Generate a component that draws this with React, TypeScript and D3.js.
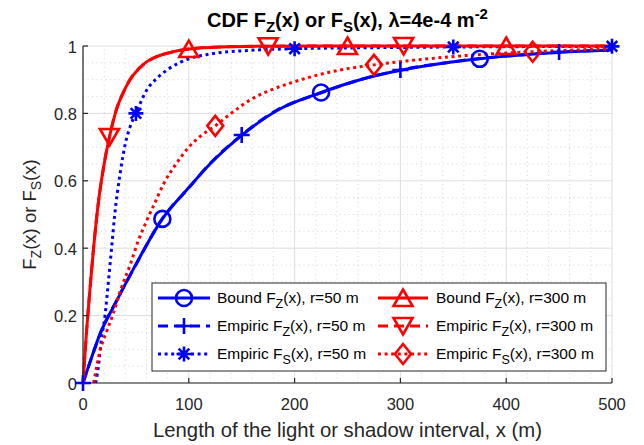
import React from "react";
import * as d3 from "d3";

const X_TICKS = [0, 100, 200, 300, 400, 500];
const Y_TICKS = [0, 0.2, 0.4, 0.6, 0.8, 1];
const Y_TICK_LABELS = ["0", "0.2", "0.4", "0.6", "0.8", "1"];

// Bound F_Z(x), r=50 m
const BOUND_Z50_X = [0, 8, 16, 32, 50, 75, 100, 120, 150, 183, 225, 262, 300, 340, 375, 420, 450, 500];
const BOUND_Z50_Y = [0, 0.075, 0.145, 0.245, 0.352, 0.487, 0.58, 0.65, 0.735, 0.808, 0.862, 0.9, 0.928, 0.949, 0.962, 0.975, 0.981, 0.988];
const BOUND_Z50_MX = [75, 225, 375];
const BOUND_Z50_MY = [0.487, 0.862, 0.962];

// Empiric F_Z(x), r=50 m
const EMP_Z50_X = [0, 8, 16, 32, 50, 75, 100, 120, 150, 183, 225, 262, 300, 340, 375, 420, 450, 500];
const EMP_Z50_Y = [0, 0.074, 0.144, 0.246, 0.351, 0.488, 0.579, 0.651, 0.736, 0.809, 0.861, 0.9, 0.929, 0.949, 0.963, 0.975, 0.982, 0.988];
const EMP_Z50_MX = [0, 150, 300, 450];
const EMP_Z50_MY = [0, 0.736, 0.929, 0.982];

// Empiric F_S(x), r=50 m
const EMP_S50_X = [12, 15, 17, 20.8, 24, 27, 30, 35, 40, 44.5, 50, 60, 70, 80, 100, 120, 158, 200, 275, 350, 500];
const EMP_S50_Y = [0, 0.06, 0.12, 0.2, 0.3, 0.4, 0.5, 0.62, 0.71, 0.76, 0.8, 0.868, 0.905, 0.93, 0.962, 0.976, 0.987, 0.992, 0.995, 0.997, 0.999];
const EMP_S50_MX = [50, 200, 350, 500];
const EMP_S50_MY = [0.8, 0.992, 0.997, 0.999];

// Bound F_Z(x), r=300 m
const BOUND_Z300_X = [0, 3.5, 6.6, 10, 14.5, 20, 25, 32, 38, 44.5, 52, 60, 70, 80, 100, 130, 180, 250, 500];
const BOUND_Z300_Y = [0, 0.16, 0.28, 0.4, 0.535, 0.65, 0.73, 0.815, 0.862, 0.9, 0.93, 0.953, 0.969, 0.979, 0.991, 0.997, 0.9995, 1, 1];
const BOUND_Z300_MX = [100, 250, 400];
const BOUND_Z300_MY = [0.991, 1, 1];

// Empiric F_Z(x), r=300 m
const EMP_Z300_X = [0, 3.5, 6.6, 10, 14.5, 20, 25, 32, 38, 44.5, 52, 60, 70, 80, 100, 130, 180, 250, 500];
const EMP_Z300_Y = [0, 0.158, 0.279, 0.401, 0.534, 0.651, 0.73, 0.816, 0.861, 0.901, 0.93, 0.952, 0.969, 0.979, 0.991, 0.997, 0.9995, 1, 1];
const EMP_Z300_MX = [25, 175, 303];
const EMP_Z300_MY = [0.73, 0.9994, 1];

// Empiric F_S(x), r=300 m
const EMP_S300_X = [10, 13, 16, 22, 28.7, 36, 44.5, 52, 60, 68, 76, 88, 100, 112, 125, 140, 158, 178, 196, 237, 275, 310, 363, 425, 500];
const EMP_S300_Y = [0, 0.05, 0.095, 0.15, 0.207, 0.28, 0.35, 0.42, 0.48, 0.535, 0.59, 0.65, 0.7, 0.735, 0.763, 0.8, 0.84, 0.87, 0.89, 0.925, 0.944, 0.957, 0.972, 0.983, 0.992];
const EMP_S300_MX = [125, 275, 425];
const EMP_S300_MY = [0.763, 0.944, 0.983];

const BLUE = "#0000ff";
const RED = "#ff0000";
const TXT = "#262626";
const FONT = "'Liberation Sans', Arial, Helvetica, sans-serif";

const W = 644, H = 445;
const L = 83, R = 612, T = 46, B = 383;

const x = d3.scaleLinear().domain([0, 500]).range([L, R]);
const y = d3.scaleLinear().domain([0, 1]).range([B, T]);

type Style = "solid" | "dashed" | "dotted";
type MarkerType = "circle" | "plus" | "asterisk" | "tri-up" | "tri-down" | "diamond";

const dashFor = (s: Style) => (s === "dashed" ? "10,6" : s === "dotted" ? "3,3.6" : undefined);

function Marker({ cx, cy, type, color }: { cx: number; cy: number; type: MarkerType; color: string }) {
  const sw = 2.6;
  const common = { fill: "none", stroke: color, strokeWidth: sw };
  switch (type) {
    case "circle":
      return <circle cx={cx} cy={cy} r={8} {...common} />;
    case "plus":
      return <path d={`M${cx - 8},${cy}H${cx + 8}M${cx},${cy - 8}V${cy + 8}`} {...common} />;
    case "asterisk": {
      const a = 7.5, d = 5.3;
      return (
        <path
          d={`M${cx - a},${cy}H${cx + a}M${cx},${cy - a}V${cy + a}M${cx - d},${cy - d}L${cx + d},${cy + d}M${cx - d},${cy + d}L${cx + d},${cy - d}`}
          {...common}
        />
      );
    }
    case "tri-up":
      return <path d={`M${cx},${cy - 8.5}L${cx + 9.5},${cy + 8}L${cx - 9.5},${cy + 8}Z`} {...common} strokeLinejoin="miter" />;
    case "tri-down":
      return <path d={`M${cx},${cy + 8.5}L${cx + 9.5},${cy - 8}L${cx - 9.5},${cy - 8}Z`} {...common} strokeLinejoin="miter" />;
    case "diamond":
      return <path d={`M${cx},${cy - 10}L${cx + 8},${cy}L${cx},${cy + 10}L${cx - 8},${cy}Z`} {...common} />;
  }
  return null;
}

interface Series {
  xs: number[];
  ys: number[];
  mx: number[];
  my: number[];
  color: string;
  style: Style;
  marker: MarkerType;
  label: string;
  sub: string;
  r: string;
}

const SERIES: Series[] = [
  { xs: BOUND_Z50_X, ys: BOUND_Z50_Y, mx: BOUND_Z50_MX, my: BOUND_Z50_MY, color: BLUE, style: "solid", marker: "circle", label: "Bound F", sub: "Z", r: "50" },
  { xs: EMP_Z50_X, ys: EMP_Z50_Y, mx: EMP_Z50_MX, my: EMP_Z50_MY, color: BLUE, style: "dashed", marker: "plus", label: "Empiric F", sub: "Z", r: "50" },
  { xs: EMP_S50_X, ys: EMP_S50_Y, mx: EMP_S50_MX, my: EMP_S50_MY, color: BLUE, style: "dotted", marker: "asterisk", label: "Empiric F", sub: "S", r: "50" },
  { xs: BOUND_Z300_X, ys: BOUND_Z300_Y, mx: BOUND_Z300_MX, my: BOUND_Z300_MY, color: RED, style: "solid", marker: "tri-up", label: "Bound F", sub: "Z", r: "300" },
  { xs: EMP_Z300_X, ys: EMP_Z300_Y, mx: EMP_Z300_MX, my: EMP_Z300_MY, color: RED, style: "dashed", marker: "tri-down", label: "Empiric F", sub: "Z", r: "300" },
  { xs: EMP_S300_X, ys: EMP_S300_Y, mx: EMP_S300_MX, my: EMP_S300_MY, color: RED, style: "dotted", marker: "diamond", label: "Empiric F", sub: "S", r: "300" },
];

const line = d3
  .line<[number, number]>()
  .x((d) => x(d[0]))
  .y((d) => y(d[1]))
  .curve(d3.curveMonotoneX);

export default function App() {
  const minorX = d3.range(0, 501, 20).filter((v) => v % 100 !== 0);
  const minorY = d3.range(0, 1.0001, 0.05).filter((v) => Math.abs(v * 5 - Math.round(v * 5)) > 1e-6);

  const legX = 152, legY = 283, legW = 454, legH = 88;
  const rowY = [298, 326, 354];
  const colLine = [
    [158, 210],
    [378, 428],
  ];
  const colText = [217, 436];

  return (
    <div style={{ position: "fixed", left: 0, top: 0, width: W, height: H, background: "#fff" }}>
      <svg width={W} height={H} style={{ display: "block" }} fontFamily={FONT}>
        <rect width={W} height={H} fill="#fff" />
        {/* minor grid */}
        {minorX.map((v) => (
          <line key={"mx" + v} x1={x(v)} x2={x(v)} y1={B} y2={T} stroke="#c9c9c9" strokeWidth={0.8} strokeDasharray="1,3.5" />
        ))}
        {minorY.map((v) => (
          <line key={"my" + v} x1={L} x2={R} y1={y(v)} y2={y(v)} stroke="#c9c9c9" strokeWidth={0.8} strokeDasharray="1,3.5" />
        ))}
        {/* major grid */}
        {X_TICKS.map((v) => (
          <line key={"gx" + v} x1={x(v)} x2={x(v)} y1={B} y2={T} stroke="#dedede" strokeWidth={1} />
        ))}
        {Y_TICKS.map((v) => (
          <line key={"gy" + v} x1={L} x2={R} y1={y(v)} y2={y(v)} stroke="#dedede" strokeWidth={1} />
        ))}

        {/* series lines */}
        {SERIES.map((s, i) => (
          <path
            key={"l" + i}
            d={line(s.xs.map((v, j) => [v, s.ys[j]] as [number, number])) || ""}
            fill="none"
            stroke={s.color}
            strokeWidth={3}
            strokeDasharray={dashFor(s.style)}
          />
        ))}

        {/* axes */}
        <line x1={L} x2={R} y1={B} y2={B} stroke={TXT} strokeWidth={1.2} />
        <line x1={L} x2={L} y1={B} y2={T} stroke={TXT} strokeWidth={1.2} />
        {X_TICKS.map((v) => (
          <g key={"xt" + v}>
            <line x1={x(v)} x2={x(v)} y1={B} y2={B - 5} stroke={TXT} strokeWidth={1.2} />
            <text x={x(v)} y={410} textAnchor="middle" fontSize={16.5} fill={TXT}>
              {v}
            </text>
          </g>
        ))}
        {Y_TICKS.map((v, i) => (
          <g key={"yt" + v}>
            <line x1={L} x2={L + 5} y1={y(v)} y2={y(v)} stroke={TXT} strokeWidth={1.2} />
            <text x={77} y={y(v) + 6.5} textAnchor="end" fontSize={16.5} fill={TXT}>
              {Y_TICK_LABELS[i]}
            </text>
          </g>
        ))}

        {/* markers */}
        {SERIES.map((s, i) => (
          <g key={"m" + i}>
            {s.mx.map((v, j) => (
              <Marker key={j} cx={x(v)} cy={y(s.my[j])} type={s.marker} color={s.color} />
            ))}
          </g>
        ))}

        {/* title */}
        <text x={(L + R) / 2} y={27} textAnchor="middle" fontSize={20} fontWeight="bold" fill="#000">
          CDF F<tspan fontSize={15} dy={5}>Z</tspan>
          <tspan dy={-5}>(x) or F</tspan>
          <tspan fontSize={15} dy={5}>S</tspan>
          <tspan dy={-5}>(x), λ=4e-4 m</tspan>
          <tspan fontSize={15} dy={-8}>-2</tspan>
        </text>

        {/* x label */}
        <text x={(L + R) / 2} y={437} textAnchor="middle" fontSize={20.3} fill={TXT}>
          Length of the light or shadow interval, x (m)
        </text>
        {/* y label */}
        <text transform={`translate(36,${(T + B) / 2}) rotate(-90)`} textAnchor="middle" fontSize={18.5} fill={TXT}>
          F<tspan fontSize={14} dy={5}>Z</tspan>
          <tspan dy={-5}>(x) or F</tspan>
          <tspan fontSize={14} dy={5}>S</tspan>
          <tspan dy={-5}>(x)</tspan>
        </text>

        {/* legend */}
        <rect x={legX} y={legY} width={legW} height={legH} fill="#fff" stroke={TXT} strokeWidth={1} />
        {SERIES.map((s, i) => {
          const col = i < 3 ? 0 : 1;
          const row = i % 3;
          const [x1, x2] = colLine[col];
          const cy = rowY[row];
          return (
            <g key={"lg" + i}>
              <line x1={x1} x2={x2} y1={cy} y2={cy} stroke={s.color} strokeWidth={3} strokeDasharray={dashFor(s.style)} />
              <Marker cx={(x1 + x2) / 2} cy={cy} type={s.marker} color={s.color} />
              <text x={colText[col]} y={cy + 5} fontSize={15.5} fill="#000">
                {s.label}
                <tspan fontSize={12.5} dy={5}>{s.sub}</tspan>
                <tspan dy={-5}>(x), r={s.r} m</tspan>
              </text>
            </g>
          );
        })}
      </svg>
    </div>
  );
}
